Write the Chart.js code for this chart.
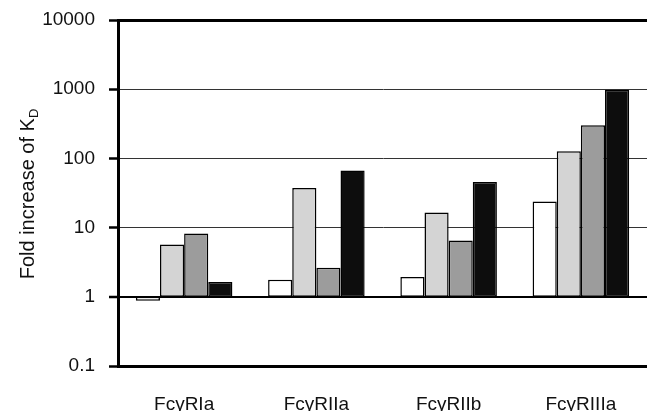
<!DOCTYPE html>
<html>
<head>
<meta charset="utf-8">
<script src="https://cdn.jsdelivr.net/npm/chart.js@4"></script>
<style>
  html, body { margin: 0; padding: 0; background: #fff; }
  #wrap { width: 647px; height: 411px; }
</style>
</head>
<body>
<div id="wrap"><canvas id="kd-chart" width="647" height="411"></canvas></div>
<script>
// fold increase of KD per receptor, four variants (white, light, mid, black)
const categories = ['FcγRIa', 'FcγRIIa', 'FcγRIIb', 'FcγRIIIa'];
const whiteVals = [0.88, 1.77, 1.94, 23.8];
const lightVals = [5.7, 37.4, 16.5, 127];
const midVals = [8.2, 2.64, 6.5, 301];
const blackVals = [1.64, 67, 45.6, 980];
const yTicks = [0.1, 1, 10, 100, 1000, 10000];
const BASE = 1; // bars grow from 1

const FONT = { family: '"Liberation Sans", Arial, sans-serif', size: 19 };

function floating(vals) {
  return vals.map(v => [BASE, v]);
}

function barSet(label, vals, color) {
  return {
    label,
    data: floating(vals),
    backgroundColor: color,
    borderColor: '#000',
    borderWidth: 1.5,
    borderSkipped: false,
    categoryPercentage: 0.73,
    barPercentage: 1.0,
  };
}

// y title with subscript D
const yTitle = {
  id: 'yTitle',
  afterDraw(chart) {
    const ctx = chart.ctx;
    ctx.save();
    ctx.translate(28, 194);
    ctx.rotate(-Math.PI / 2);
    ctx.fillStyle = '#111';
    ctx.textBaseline = 'middle';
    const main = 'Fold increase of K';
    ctx.font = `13px ${FONT.family}`;
    const subW = ctx.measureText('D').width;
    ctx.font = `20px ${FONT.family}`;
    const mainW = ctx.measureText(main).width;
    const x0 = -(mainW + subW) / 2;
    ctx.textAlign = 'left';
    ctx.fillText(main, x0, 0);
    ctx.font = `13px ${FONT.family}`;
    ctx.fillText('D', x0 + mainW, 6);
    ctx.restore();
  }
};

const ctx = document.getElementById('kd-chart').getContext('2d');
new Chart(ctx, {
  type: 'bar',
  data: {
    labels: categories,
    datasets: [
      barSet('white', whiteVals, '#ffffff'),
      barSet('light', lightVals, '#d4d4d4'),
      barSet('mid', midVals, '#9c9c9c'),
      barSet('black', blackVals, '#0d0d0d'),
    ]
  },
  options: {
    responsive: false,
    animation: false,
    layout: { padding: { top: 20, right: 0, left: 0, bottom: 0 } },
    plugins: {
      legend: { display: false },
      tooltip: { enabled: false }
    },
    scales: {
      x: {
        grid: { display: false, drawTicks: false },
        border: { display: true, color: '#000', width: 3 },
        ticks: { font: FONT, color: '#111', padding: 27 },
        afterFit: s => { s.height = 45; }
      },
      y: {
        type: 'logarithmic',
        min: 0.1,
        max: 10000,
        afterBuildTicks: s => { s.ticks = yTicks.map(v => ({ value: v })); },
        afterFit: s => { s.width = 118; s.paddingTop = 0; s.paddingBottom = 0; },
        border: { display: true, color: '#000', width: 3 },
        grid: {
          color: c => {
            const v = c.tick ? c.tick.value : 0;
            return (v === 1 || v === 0.1 || v === 10000) ? '#000' : '#333';
          },
          lineWidth: c => {
            const v = c.tick ? c.tick.value : 0;
            if (v === 10000 || v === 0.1) return 3;
            if (v === 1) return 2;
            return 1;
          },
          drawTicks: true,
          tickLength: 9,
          tickColor: '#000',
          tickWidth: 2.5,
        },
        ticks: {
          font: FONT,
          color: '#111',
          padding: 14,
          callback: v => String(v)
        }
      }
    }
  },
  plugins: [yTitle]
});
</script>
</body>
</html>
